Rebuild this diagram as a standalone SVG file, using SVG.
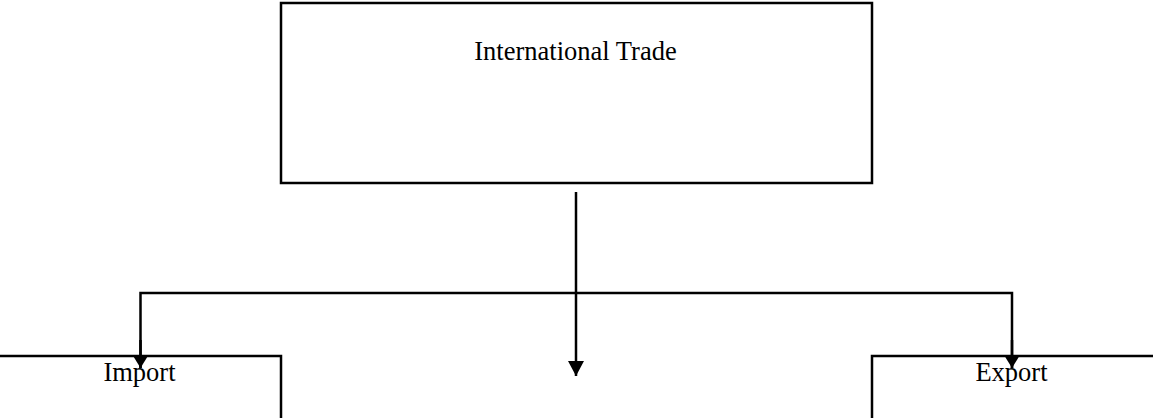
<svg xmlns="http://www.w3.org/2000/svg" width="1153" height="418" viewBox="0 0 1153 418">
<style>
.box{fill:#fff;stroke:#000;stroke-width:2.5}
.lbl{font-family:"Liberation Serif","Times New Roman",serif;font-size:26.5px;fill:#000;text-anchor:middle}
.con{fill:none;stroke:#000;stroke-width:2.5}
</style>
<defs>
<marker id="ah" markerUnits="userSpaceOnUse" markerWidth="16" markerHeight="16" viewBox="0 0 16 16" refX="15" refY="8" orient="auto">
<path d="M0,0 L15,8 L0,16 Z" fill="#000"/>
</marker>
<marker id="ahs" markerUnits="userSpaceOnUse" markerWidth="13" markerHeight="16" viewBox="0 0 13 16" refX="13" refY="8" orient="auto">
<path d="M0,0 L13,8 L0,16 Z" fill="#000"/>
</marker>
</defs>
<g id="node-trade">
<rect class="box" x="281" y="3" width="591" height="180"/>
<text class="lbl" x="575.5" y="60">International Trade</text>
</g>
<g id="node-import">
<rect class="box" x="-2" y="356" width="283" height="70"/>
<text class="lbl" x="139.5" y="381">Import</text>
</g>
<g id="node-export">
<rect class="box" x="872" y="356" width="290" height="70"/>
<text class="lbl" x="1011.5" y="381">Export</text>
</g>
<g id="connectors">
<line class="con" x1="576" y1="192" x2="576" y2="376" marker-end="url(#ah)"/>
<path class="con" d="M140.5,368 L140.5,293 L1012,293 L1012,368" fill="none"/>
<line class="con" x1="140.5" y1="340" x2="140.5" y2="368" marker-end="url(#ahs)"/>
<line class="con" x1="1012" y1="340" x2="1012" y2="368" marker-end="url(#ahs)"/>
</g>
</svg>
